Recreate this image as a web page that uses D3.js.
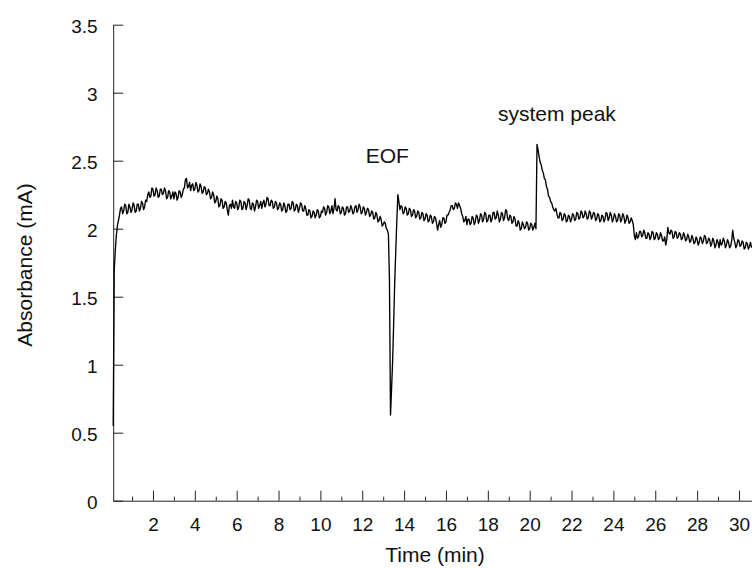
<!DOCTYPE html>
<html>
<head>
<meta charset="utf-8">
<script src="https://cdn.jsdelivr.net/npm/d3@7"></script>
<style>
  body { margin: 0; background: #fff; }
  text { font-family: "Liberation Sans", Arial, sans-serif; fill: #111; }
</style>
</head>
<body>
<div id="chart"></div>
<script>
// sampling of the trace (min)
var sampleStart = 0.1;
var sampleStep = 0.05;

// absorbance, one value per 0.05 min from 0.1 to 30.6
// (each row is one minute)
var absorbance = [
  0.55, 1.70, 1.84, 1.95, 2.02, 2.06, 2.10, 2.15, 2.16, 2.11, 2.13, 2.18, 2.17, 2.11, 2.12, 2.18, 2.16, 2.12, 2.14, 2.19,
  2.17, 2.12, 2.13, 2.18, 2.18, 2.13, 2.15, 2.20, 2.19, 2.14, 2.16, 2.21, 2.20, 2.25, 2.27, 2.23, 2.24, 2.30, 2.29, 2.24,
  2.25, 2.30, 2.28, 2.23, 2.24, 2.29, 2.29, 2.25, 2.26, 2.30, 2.28, 2.22, 2.23, 2.28, 2.27, 2.22, 2.24, 2.27, 2.22, 2.27,
  2.26, 2.21, 2.23, 2.28, 2.27, 2.23, 2.25, 2.29, 2.30, 2.36, 2.37, 2.30, 2.31, 2.34, 2.28, 2.32, 2.33, 2.28, 2.29, 2.34,
  2.32, 2.27, 2.28, 2.33, 2.31, 2.26, 2.27, 2.31, 2.30, 2.25, 2.26, 2.29, 2.27, 2.22, 2.23, 2.27, 2.25, 2.19, 2.20, 2.24,
  2.22, 2.16, 2.17, 2.22, 2.21, 2.15, 2.16, 2.20, 2.19, 2.14, 2.10, 2.17, 2.18, 2.15, 2.21, 2.16, 2.15, 2.20, 2.19, 2.14,
  2.16, 2.21, 2.20, 2.14, 2.15, 2.20, 2.19, 2.14, 2.17, 2.22, 2.21, 2.15, 2.14, 2.19, 2.18, 2.13, 2.16, 2.21, 2.20, 2.15,
  2.17, 2.20, 2.15, 2.19, 2.21, 2.16, 2.18, 2.23, 2.22, 2.17, 2.17, 2.21, 2.20, 2.15, 2.16, 2.20, 2.19, 2.14, 2.15, 2.19,
  2.18, 2.13, 2.14, 2.19, 2.17, 2.12, 2.13, 2.18, 2.18, 2.14, 2.15, 2.20, 2.19, 2.13, 2.14, 2.18, 2.17, 2.12, 2.15, 2.19,
  2.18, 2.13, 2.13, 2.17, 2.15, 2.10, 2.10, 2.14, 2.13, 2.08, 2.09, 2.13, 2.12, 2.08, 2.10, 2.14, 2.13, 2.08, 2.09, 2.13,
  2.12, 2.16, 2.15, 2.10, 2.12, 2.17, 2.16, 2.11, 2.13, 2.17, 2.11, 2.15, 2.22, 2.14, 2.13, 2.17, 2.16, 2.11, 2.12, 2.16,
  2.15, 2.10, 2.11, 2.16, 2.16, 2.12, 2.13, 2.17, 2.15, 2.11, 2.12, 2.16, 2.17, 2.12, 2.14, 2.18, 2.16, 2.11, 2.12, 2.16,
  2.15, 2.10, 2.12, 2.15, 2.14, 2.09, 2.10, 2.13, 2.12, 2.07, 2.08, 2.12, 2.10, 2.05, 2.06, 2.09, 2.07, 2.02, 2.03, 2.05,
  2.04, 2.00, 1.99, 1.96, 1.62, 0.63, 0.82, 1.02, 1.30, 1.60, 1.83, 2.05, 2.25, 2.20, 2.14, 2.17, 2.16, 2.11, 2.12, 2.16,
  2.15, 2.10, 2.11, 2.15, 2.14, 2.09, 2.10, 2.14, 2.13, 2.08, 2.09, 2.13, 2.12, 2.07, 2.08, 2.12, 2.11, 2.06, 2.07, 2.11,
  2.10, 2.05, 2.06, 2.10, 2.09, 2.04, 2.05, 2.09, 2.08, 2.04, 1.99, 2.03, 2.06, 2.01, 2.03, 2.08, 2.08, 2.04, 2.05, 2.10,
  2.10, 2.12, 2.14, 2.17, 2.17, 2.14, 2.15, 2.19, 2.18, 2.15, 2.19, 2.17, 2.15, 2.11, 2.09, 2.05, 2.06, 2.09, 2.03, 2.07,
  2.07, 2.03, 2.04, 2.09, 2.08, 2.03, 2.05, 2.10, 2.09, 2.04, 2.06, 2.11, 2.10, 2.05, 2.07, 2.12, 2.11, 2.05, 2.06, 2.10,
  2.10, 2.05, 2.07, 2.12, 2.12, 2.07, 2.08, 2.13, 2.10, 2.05, 2.07, 2.12, 2.11, 2.06, 2.08, 2.14, 2.13, 2.07, 2.06, 2.10,
  2.09, 2.04, 2.05, 2.09, 2.07, 2.02, 2.02, 2.06, 2.04, 1.99, 2.00, 2.05, 2.03, 2.00, 2.01, 2.05, 2.04, 1.99, 2.00, 2.04,
  2.03, 1.99, 2.01, 2.04, 2.00, 2.62, 2.58, 2.53, 2.49, 2.47, 2.43, 2.41, 2.37, 2.36, 2.31, 2.29, 2.24, 2.23, 2.20, 2.19,
  2.16, 2.14, 2.13, 2.15, 2.11, 2.08, 2.08, 2.12, 2.11, 2.06, 2.07, 2.11, 2.10, 2.05, 2.06, 2.10, 2.09, 2.05, 2.07, 2.11,
  2.10, 2.06, 2.07, 2.12, 2.11, 2.07, 2.08, 2.13, 2.12, 2.08, 2.09, 2.13, 2.11, 2.07, 2.08, 2.13, 2.12, 2.07, 2.09, 2.12,
  2.11, 2.06, 2.07, 2.11, 2.10, 2.05, 2.06, 2.10, 2.09, 2.05, 2.07, 2.12, 2.11, 2.06, 2.08, 2.12, 2.10, 2.05, 2.07, 2.11,
  2.09, 2.05, 2.06, 2.11, 2.10, 2.05, 2.07, 2.11, 2.09, 2.04, 2.06, 2.10, 2.08, 2.04, 2.05, 2.08, 2.06, 2.03, 1.95, 1.92,
  1.97, 1.93, 1.94, 1.98, 1.98, 1.94, 1.95, 1.99, 1.97, 1.93, 1.93, 1.97, 1.96, 1.92, 1.94, 1.98, 1.97, 1.92, 1.93, 1.97,
  1.96, 1.92, 1.93, 1.97, 1.95, 1.91, 1.91, 1.94, 1.88, 1.92, 2.01, 1.97, 1.96, 1.99, 1.98, 1.93, 1.94, 1.98, 1.97, 1.93,
  1.94, 1.97, 1.96, 1.92, 1.93, 1.97, 1.95, 1.91, 1.92, 1.96, 1.94, 1.90, 1.91, 1.95, 1.93, 1.89, 1.90, 1.94, 1.92, 1.88,
  1.90, 1.94, 1.93, 1.89, 1.91, 1.95, 1.94, 1.89, 1.90, 1.93, 1.92, 1.87, 1.89, 1.93, 1.91, 1.86, 1.88, 1.92, 1.90, 1.86,
  1.92, 1.88, 1.89, 1.93, 1.91, 1.86, 1.88, 1.92, 1.90, 1.86, 1.87, 1.91, 1.99, 1.93, 1.90, 1.86, 1.88, 1.92, 1.91, 1.87,
  1.88, 1.91, 1.90, 1.85, 1.86, 1.90, 1.89, 1.85, 1.87, 1.90, 1.86
];

// axis ticks
var xMajorTicks = [2, 4, 6, 8, 10, 12, 14, 16, 18, 20, 22, 24, 26, 28, 30];
var xMinorTicks = [1, 3, 5, 7, 9, 11, 13, 15, 17, 19, 21, 23, 25, 27, 29];
var yTicks = [0, 0.5, 1, 1.5, 2, 2.5, 3, 3.5];

// peak labels
var peakNames = ["EOF", "system peak"];
var peakTimes = [13.2, 21.3];
var peakLabelValues = [2.48, 2.79];

var svgWidth = 752;
var svgHeight = 568;

var svg = d3.select("#chart")
  .append("svg")
  .attr("width", svgWidth)
  .attr("height", svgHeight);

//---------------------------------------------------------------------
// scales (axis runs a bit past the window, clipped at the right)

var xScale = d3.scaleLinear()
  .domain([0.1, 31])
  .range([113.2, 759.9]);

var yScale = d3.scaleLinear()
  .domain([0, 3.5])
  .range([500.7, 24.7]);

// trace points
var trace = absorbance.map(function(v, i) {
  return { t: sampleStart + i * sampleStep, v: v };
});

// x axis: majors with labels, minors without
svg.append("g")
  .attr("transform", `translate(0, ${yScale(0)})`)
  .call(d3.axisBottom(xScale)
    .tickValues(xMajorTicks)
    .tickSize(-10)
    .tickSizeOuter(0)
    .tickPadding(17)
    .tickFormat(d3.format("d")));

svg.append("g")
  .attr("transform", `translate(0, ${yScale(0)})`)
  .call(d3.axisBottom(xScale).tickValues(xMinorTicks).tickSize(-4).tickSizeOuter(0).tickFormat(""))
  .select(".domain").remove();

svg.append("g")
  .attr("transform", `translate(${xScale(0.1)}, 0)`)
  .call(d3.axisLeft(yScale)
    .tickValues(yTicks)
    .tickSize(-10)
    .tickSizeOuter(0)
    .tickPadding(15.5)
    .tickFormat(function(d) { return d; }));

svg.selectAll(".tick text")
  .style("font-size", "19px")
  .attr("fill", "#111");
svg.selectAll("g .tick text")
  .filter(function() { return this.getAttribute("x") !== null && +this.getAttribute("x") < 0; })
  .attr("dy", "0.42em");
svg.selectAll(".domain, .tick line")
  .attr("stroke", "#222");

// trace line
var line = d3.line()
  .x(d => xScale(d.t))
  .y(d => yScale(d.v));

svg.append("path")
  .datum(trace)
  .attr("d", line)
  .attr("fill", "none")
  .attr("stroke", "#000")
  .attr("stroke-width", 1.35)
  .attr("stroke-linejoin", "round");

// peak labels
svg.selectAll(".peakLabel")
  .data(peakNames)
  .enter()
  .append("text")
  .attr("class", "peakLabel")
  .attr("x", (d, i) => xScale(peakTimes[i]))
  .attr("y", (d, i) => yScale(peakLabelValues[i]))
  .attr("text-anchor", "middle")
  .style("font-size", "21px")
  .text(d => d);

// axis titles
svg.append("text")
  .attr("x", 435)
  .attr("y", 562)
  .attr("text-anchor", "middle")
  .style("font-size", "21px")
  .text("Time (min)");

svg.append("text")
  .attr("transform", "translate(32, 265) rotate(-90)")
  .attr("text-anchor", "middle")
  .style("font-size", "21px")
  .text("Absorbance (mA)");
</script>
</body>
</html>
